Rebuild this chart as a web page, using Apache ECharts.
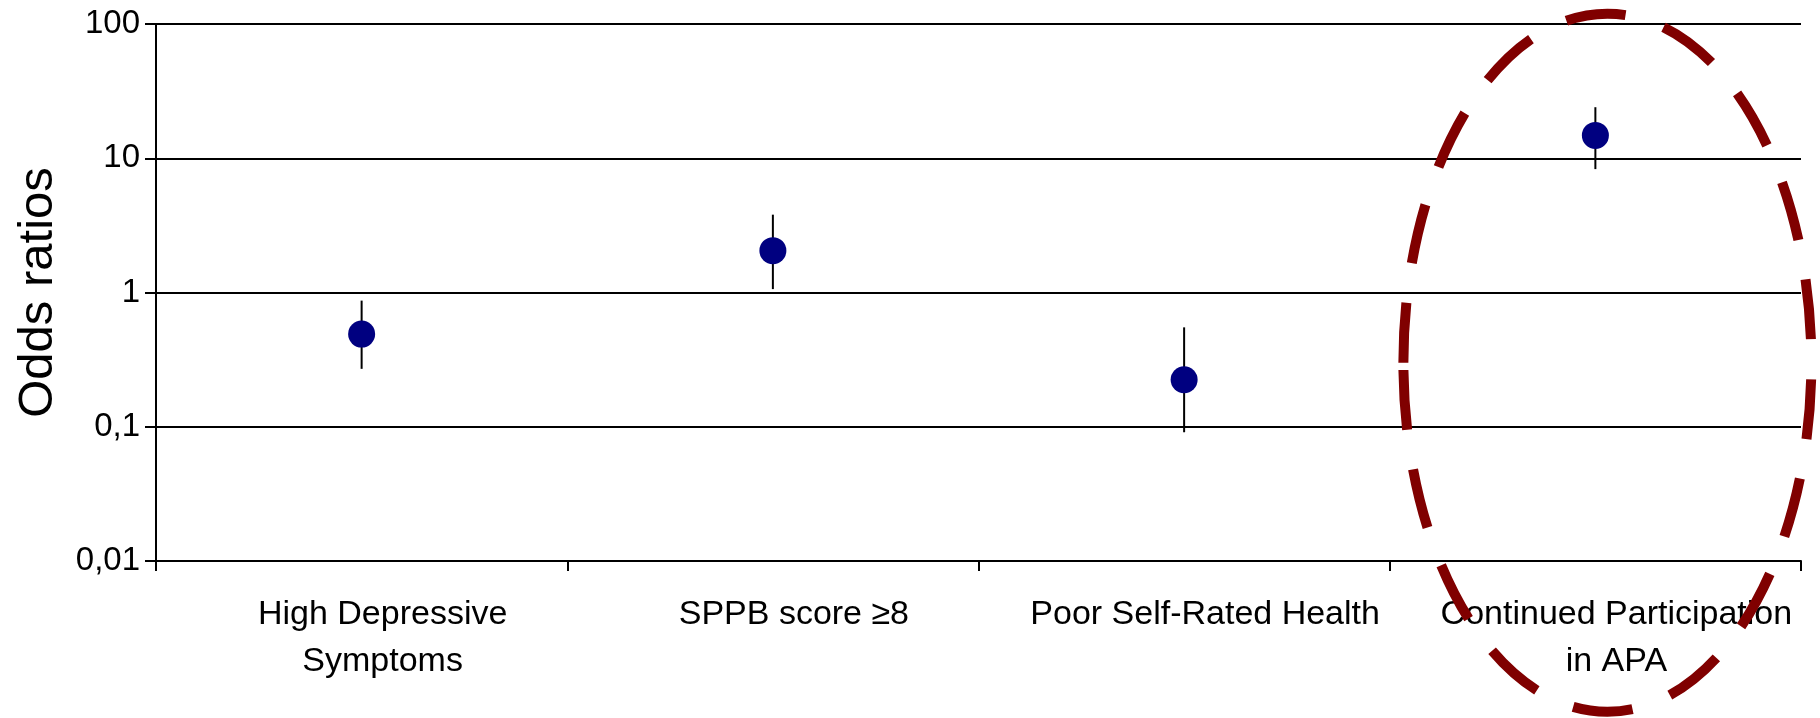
<!DOCTYPE html>
<html>
<head>
<meta charset="utf-8">
<script src="https://cdn.jsdelivr.net/npm/echarts@6/dist/echarts.min.js"></script>
<style>
html,body{margin:0;padding:0;background:#fff;}
#chart{width:1820px;height:718px;}
</style>
</head>
<body>
<div id="chart"></div>
<script>
var categories = ["High Depressive\nSymptoms", "SPPB score \u22658", "Poor Self-Rated Health", "Continued Participation\nin APA"];
var oddsRatios = [0.49, 2.05, 0.224, 14.8];
var ciLower = [0.27, 1.06, 0.091, 8.3];
var ciUpper = [0.87, 3.8, 0.55, 24];
var yTicks = [0.01, 0.1, 1, 10, 100];
var yTickLabels = ["0,01", "0,1", "1", "10", "100"];
var highlightCategory = 3;
var highlightValue = 0.31;

var chart = echarts.init(document.getElementById('chart'), null, {renderer: 'canvas'});
var FONT = "'Liberation Sans', Arial, sans-serif";

var option = {
  animation: false,
  backgroundColor: '#ffffff',
  grid: {left: 156, right: 19, top: 24, bottom: 157},
  xAxis: {
    type: 'category',
    data: categories,
    boundaryGap: true,
    axisLine: {show: true, lineStyle: {color: '#000', width: 2}},
    axisTick: {show: true, length: 10, lineStyle: {color: '#000', width: 2}},
    axisLabel: {
      interval: 0, color: '#000', fontSize: 34, fontFamily: FONT,
      margin: 30, lineHeight: 47, align: 'center',
      padding: [0, 0, 0, 42]
    },
    splitLine: {show: false}
  },
  yAxis: {
    type: 'log',
    logBase: 10,
    min: 0.01,
    max: 100,
    name: 'Odds ratios',
    nameLocation: 'middle',
    nameGap: 93,
    nameTextStyle: {color: '#000', fontSize: 49, fontFamily: FONT},
    axisLine: {show: true, onZero: false, lineStyle: {color: '#000', width: 2}},
    axisTick: {show: true, length: 11, lineStyle: {color: '#000', width: 2}},
    axisLabel: {
      color: '#000', fontSize: 33, fontFamily: FONT, margin: 16,
      formatter: function (v) {
        for (var i = 0; i < yTicks.length; i++) {
          if (Math.abs(Math.log10(v) - Math.log10(yTicks[i])) < 1e-6) return yTickLabels[i];
        }
        return String(v).replace('.', ',');
      }
    },
    splitLine: {show: true, lineStyle: {color: '#000', width: 2}}
  },
  series: [
    {
      type: 'custom',
      name: 'CI',
      data: categories.map(function (c, i) { return [i, ciLower[i], ciUpper[i]]; }),
      renderItem: function (params, api) {
        var lo = api.coord([api.value(0), api.value(1)]);
        var hi = api.coord([api.value(0), api.value(2)]);
        return {
          type: 'line',
          shape: {x1: lo[0], y1: lo[1], x2: hi[0], y2: hi[1]},
          style: {stroke: '#000', lineWidth: 2}
        };
      },
      z: 3
    },
    {
      type: 'scatter',
      name: 'OR',
      data: categories.map(function (c, i) { return [i, oddsRatios[i]]; }),
      symbol: 'circle',
      symbolSize: 27,
      itemStyle: {color: '#000080', opacity: 1},
      z: 4
    }
  ]
};
chart.setOption(option);

var center = chart.convertToPixel({xAxisIndex: 0, yAxisIndex: 0}, [highlightCategory, highlightValue]);
chart.setOption({
  graphic: [{
    type: 'ellipse',
    shape: {cx: center[0] + 12, cy: center[1] + 2, rx: 204, ry: 349},
    style: {fill: 'none', stroke: '#800000', lineWidth: 10, lineDash: [60, 40]},
    z: 100
  }]
});
</script>
</body>
</html>
